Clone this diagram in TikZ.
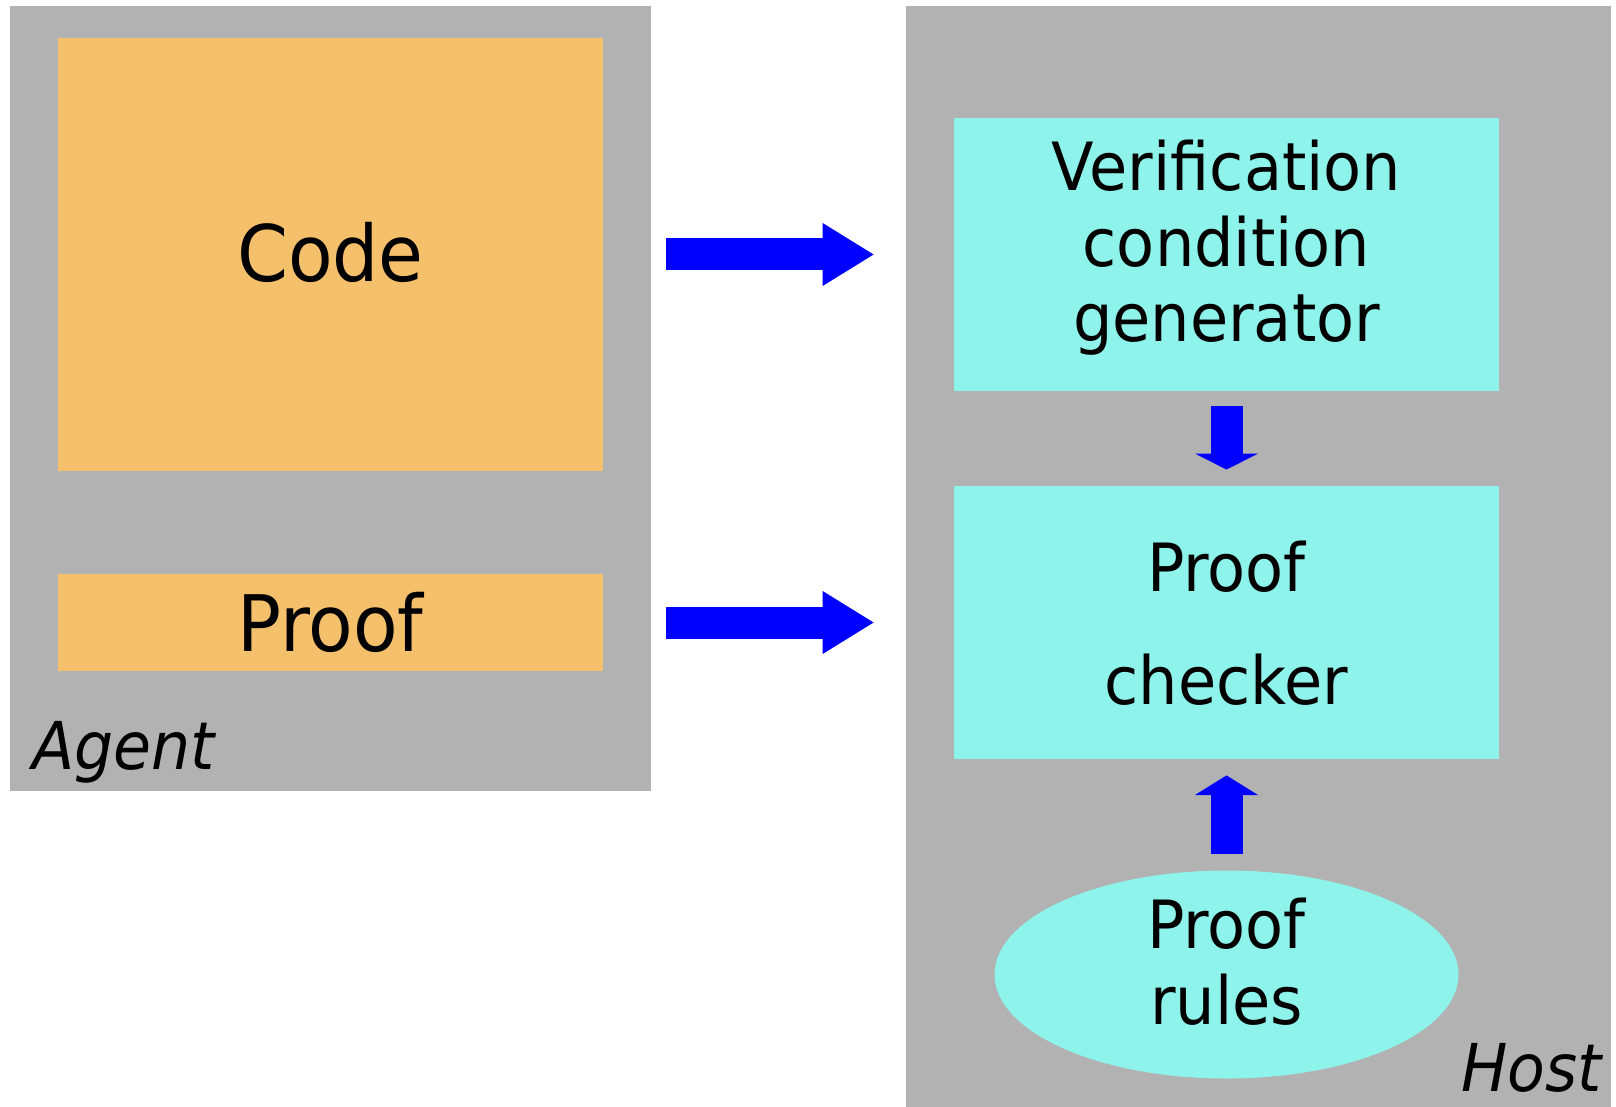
\documentclass[tikz,border=0pt]{standalone}
\usepackage{fontspec}
\setmainfont{DejaVu Sans}[FakeStretch=0.935, ItalicFont={DejaVu Sans Oblique}]
\usetikzlibrary{shapes.geometric, arrows.meta}

\definecolor{panelgrey}{RGB}{178,178,178}
\definecolor{partorange}{RGB}{244,192,108}
\definecolor{toolcyan}{RGB}{142,243,234}
\definecolor{flowblue}{RGB}{0,0,255}

\tikzset{
  panel/.style={rectangle, fill=panelgrey, draw=none, inner sep=0pt},
  part/.style={rectangle, fill=partorange, draw=none, inner sep=0pt, minimum width=272.5pt},
  tool/.style={rectangle, fill=toolcyan, draw=none, inner sep=0pt,
               minimum width=272.5pt, minimum height=136.5pt},
  bigtext/.style={font=\fontsize{39}{39}\selectfont, anchor=base, inner sep=0pt},
  midtext/.style={font=\fontsize{33.25}{37.75}\selectfont, anchor=base, inner sep=0pt},
  tag/.style={font=\fontsize{33}{33}\selectfont\itshape, inner sep=0pt},
  flow/.style={draw=flowblue, line width=16pt, line cap=butt},
}

\begin{document}
\begin{tikzpicture}[x=0.5pt, y=-0.5pt]
  \useasboundingbox (0,0) rectangle (1616,1107);
  \fill[white] (0,0) rectangle (1616,1107);

  % the two panels
  \node[panel, minimum width=320.5pt, minimum height=392.5pt] (agent) at (330.5,398.5) {};
  \node[panel, minimum width=352.5pt, minimum height=550.5pt] (host) at (1258.5,556.5) {};

  % agent side
  \node[part, minimum height=216.5pt] (code) at (330.5,254.5) {};
  \node[part, minimum height=48.5pt] (proof) at (330.5,622.5) {};
  \node[bigtext] (codetext) at (330.5,281.4) {Code};
  \node[bigtext] (prooftext) at (330.5,651.3) {Proof};
  \node[tag, anchor=base west] (agenttag) at (32,769) {Agent};

  % host side
  \node[tool] (vcgen) at (1226.5,254.5) {};
  \node[tool] (checker) at (1226.5,622.5) {};
  \node[ellipse, fill=toolcyan, draw=none, inner sep=0pt,
        minimum width=232pt, minimum height=104pt] (rules) at (1226.5,974.5) {};

  \node[midtext] (vc1) at (1226.5,190.7) {Verification};
  \node[midtext] (vc2) at (1226.5,266.7) {condition};
  \node[midtext] (vc3) at (1226.5,341.7) {generator};
  \node[midtext] (pc1) at (1226.5,591.6) {Proof};
  \node[midtext] (pc2) at (1226.5,704) {checker};
  \node[midtext] (pr1) at (1226.5,948.3) {Proof};
  \node[midtext] (pr2) at (1226.5,1024) {rules};
  \node[tag, anchor=base east] (hosttag) at (1602,1091) {Host};

  % flows
  \draw[flow, -{Triangle[length=25.5pt, width=31.5pt, line width=0pt]}]
    ([xshift=7.5pt]agent.east |- code.center) -- ([xshift=-16pt]host.west |- code.center);
  \draw[flow, -{Triangle[length=25.5pt, width=31.5pt, line width=0pt]}]
    ([xshift=7.5pt]agent.east |- proof.center) -- ([xshift=-16pt]host.west |- proof.center);
  \draw[flow, -{Triangle[length=8pt, width=31.5pt, line width=0pt]}]
    ([yshift=-7.5pt]vcgen.south) -- ([yshift=8pt]checker.north);
  \draw[flow, -{Triangle[length=9.8pt, width=31.5pt, line width=0pt]}]
    ([yshift=8.25pt]rules.north) -- ([yshift=-8pt]checker.south);
\end{tikzpicture}
\end{document}
